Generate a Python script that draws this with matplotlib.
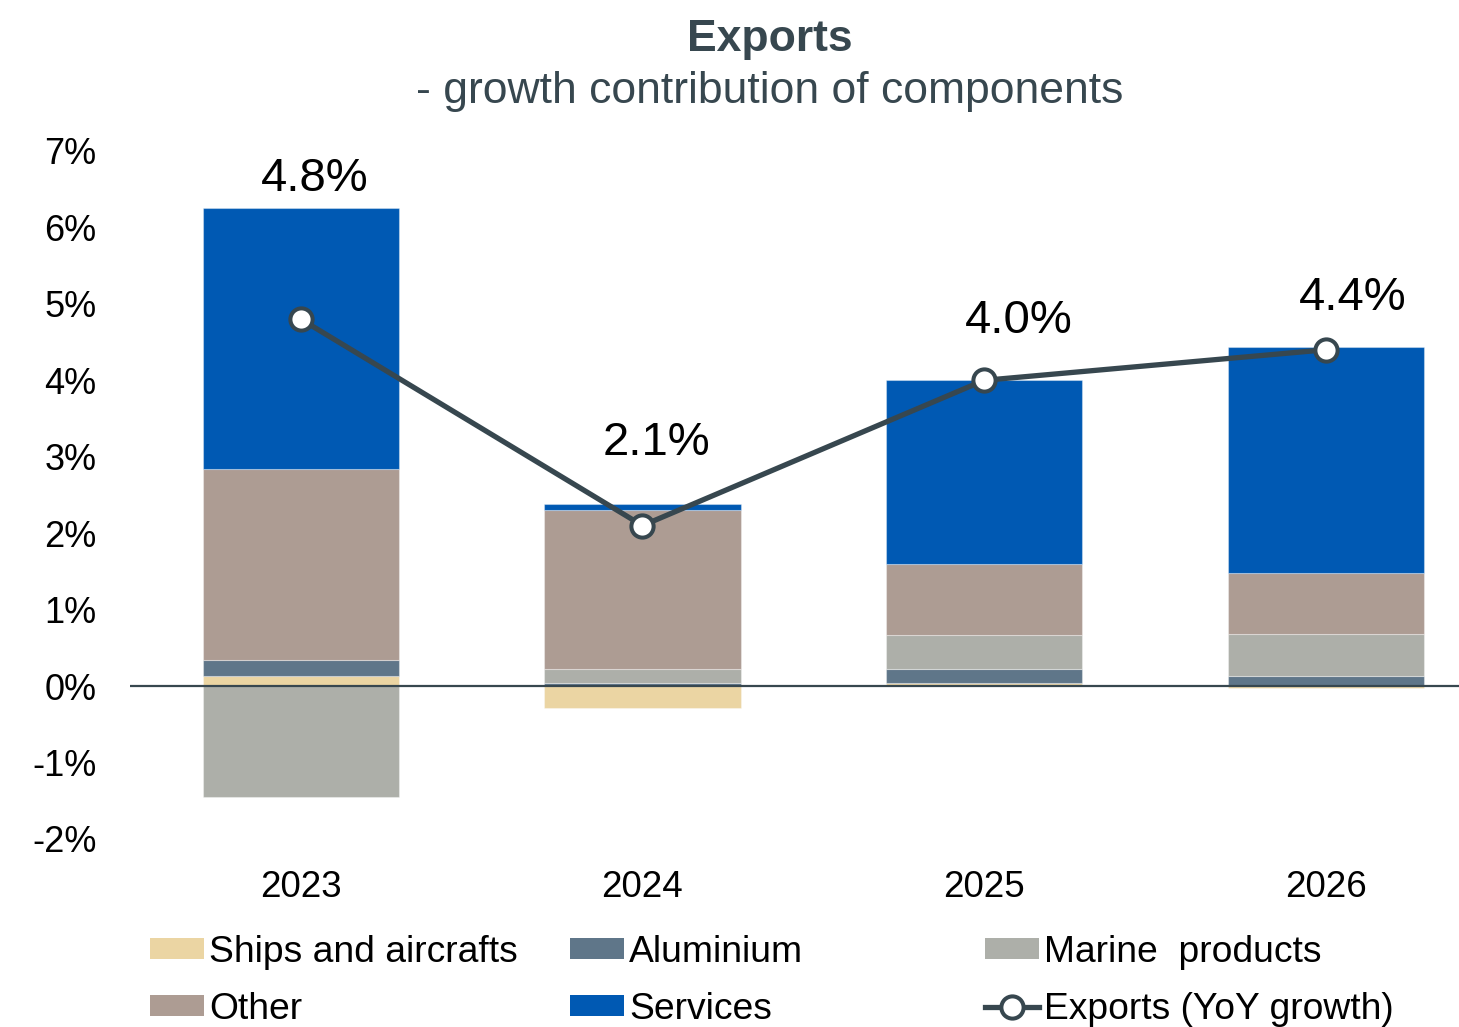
import matplotlib
matplotlib.use("Agg")
import matplotlib.pyplot as plt
import numpy as np
from matplotlib.patches import Patch
from matplotlib.lines import Line2D

plt.rcParams['font.family'] = ['Liberation Sans', 'DejaVu Sans']

years = ["2023", "2024", "2025", "2026"]
ships_aircrafts = [0.13, -0.28, 0.04, -0.03]
aluminium = [0.21, 0.04, 0.18, 0.13]
marine_products = [-1.45, 0.18, 0.45, 0.55]
other = [2.50, 2.08, 0.93, 0.80]
services = [3.41, 0.08, 2.40, 2.95]
exports_growth = [4.8, 2.1, 4.0, 4.4]
y_ticks = [-2, -1, 0, 1, 2, 3, 4, 5, 6, 7]

components = [
    ("Ships and aircrafts", ships_aircrafts, "#EBD5A3"),
    ("Aluminium", aluminium, "#5F7689"),
    ("Marine  products", marine_products, "#ADAFA9"),
    ("Other", other, "#AD9C93"),
    ("Services", services, "#0059B3"),
]
line_color = "#37474F"

fig = plt.figure(figsize=(14.59, 10.27), dpi=100)
ax = fig.add_axes([130 / 1459, (1027 - 839) / 1027, 1 - 130 / 1459, (839 - 151) / 1027])

x = np.arange(len(years))
pos_base = np.zeros(len(years))
neg_base = np.zeros(len(years))
handles = {}
for name, vals, color in components:
    vals = np.array(vals, dtype=float)
    bottoms = np.where(vals >= 0, pos_base, neg_base)
    ax.bar(x, vals, width=0.574, bottom=bottoms, color=color,
           edgecolor=(1, 1, 1, 0.35), linewidth=0.8, zorder=2)
    pos_base = pos_base + np.where(vals >= 0, vals, 0)
    neg_base = neg_base + np.where(vals < 0, vals, 0)
    handles[name] = Patch(facecolor=color, edgecolor="none")

ax.axhline(0, color=line_color, linewidth=1.6, zorder=3)

ax.plot(x, exports_growth, color=line_color, linewidth=3.8, zorder=4,
        marker="o", markersize=16, markerfacecolor="white",
        markeredgecolor=line_color, markeredgewidth=2.9)

# Value labels for total growth
label_offsets = [(0.04, None), (0.04, 1.08), (0.10, 0.78), (0.08, 0.68)]
tops = pos_base
for i, v in enumerate(exports_growth):
    dx, dy = label_offsets[i]
    ypos = tops[i] + 0.39 if dy is None else v + dy
    ax.text(x[i] + dx, ypos, f"{v:.1f}%", ha="center", va="center",
            fontsize=34, color="black", zorder=5)

ax.set_xlim(-0.5, 3.39)
ax.set_ylim(-2, 7)
ax.set_yticks(y_ticks)
ax.set_yticklabels([f"{t}%" for t in y_ticks])
ax.set_xticks(x)
ax.set_xticklabels(years)
ax.tick_params(axis="y", length=0, pad=24, labelsize=26, labelcolor="black")
ax.tick_params(axis="x", length=0, pad=22, labelsize=26.5, labelcolor="black")
for s in ax.spines.values():
    s.set_visible(False)

fig.text(770 / 1459, 1 - 39 / 1027, "Exports", ha="center", va="center",
         fontsize=32, fontweight="bold", color=line_color)
fig.text(770 / 1459, 1 - 91 / 1027, "- growth contribution of components",
         ha="center", va="center", fontsize=32, color=line_color)

line_handle = Line2D([], [], color=line_color, linewidth=3.8, marker="o",
                     markersize=16, markerfacecolor="white",
                     markeredgecolor=line_color, markeredgewidth=2.9)

columns = [
    (150, [handles["Ships and aircrafts"], handles["Other"]], ["Ships and aircrafts", "Other"]),
    (570, [handles["Aluminium"], handles["Services"]], ["Aluminium", "Services"]),
    (985, [handles["Marine  products"], line_handle], ["Marine  products", "Exports (YoY growth)"]),
]
legend_kw = dict(frameon=False, fontsize=26.8, handlelength=1.45, handleheight=0.48,
                 handletextpad=0.14, labelspacing=0.58, borderpad=0, borderaxespad=0,
                 loc="upper left")
for cx, hs, ls in columns:
    fig.legend(hs, ls, bbox_to_anchor=(cx / 1459, 1 - 935 / 1027), **legend_kw)

fig.savefig("out.png", dpi=100)
